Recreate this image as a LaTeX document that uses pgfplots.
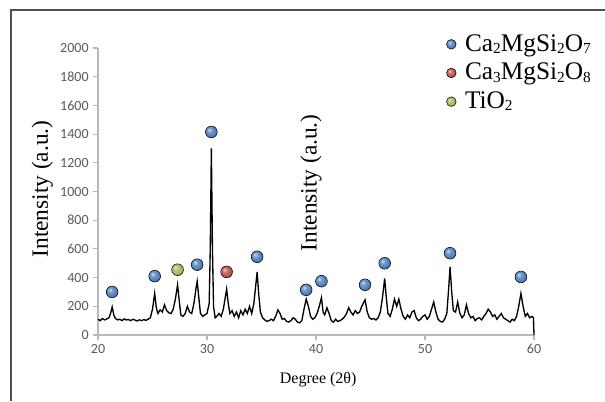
\documentclass[border=0pt]{standalone}
\usepackage{fontspec}
\setmainfont{Liberation Serif}
\newfontfamily\tickfont{Carlito}
\usepackage{pgfplots}
\pgfplotsset{compat=1.18}

\definecolor{cblue}{RGB}{79,129,189}
\definecolor{cred}{RGB}{192,80,77}
\definecolor{cgreen}{RGB}{155,187,89}
\definecolor{spine}{RGB}{185,185,185}
\definecolor{ticktext}{RGB}{89,89,89}
\definecolor{frame}{RGB}{80,80,80}

% softer ball shading than the tikz default (less black at the rim)
\makeatletter
\pgfdeclareradialshading[tikz@ball]{ball}{\pgfqpoint{-10bp}{10bp}}{color(0bp)=(tikz@ball!25!white); color(10bp)=(tikz@ball!80!white); color(22bp)=(tikz@ball); color(32bp)=(tikz@ball!85!black); color(50bp)=(tikz@ball!70!black)}
\makeatother

\newcommand\sub[1]{\raisebox{-0.08em}{\fontsize{11.5}{12}\selectfont #1}}

\begin{document}
\begin{tikzpicture}[x=0.75pt,y=0.75pt]
\useasboundingbox (0,0) rectangle (605,401);
\draw[line width=1.1pt, frame] (11,0) -- (11,391) -- (605,391);
\begin{axis}[
  at={(73.5pt,49.5pt)}, anchor=south west,
  scale only axis, width=327pt, height=215.25pt,
  xmin=20, xmax=60, ymin=0, ymax=2000,
  axis lines=left,
  axis line style={-, draw=spine, line width=0.8pt},
  xtick={20,30,...,60}, ytick={0,200,...,2000},
  tick align=outside, major tick length=3.5pt,
  tick style={draw=spine, line width=0.8pt},
  ticklabel style={font=\tickfont\fontsize{10.5}{12}\selectfont, color=ticktext},
  /pgf/number format/assume math mode=true,
  /pgf/number format/set thousands separator={},
  xlabel={Degree (2θ)},
  ylabel={Intensity (a.u.)},
  xlabel style={font=\fontsize{12}{14}\selectfont, at={(axis description cs:0.505,-0.157)}, anchor=center},
  ylabel style={font=\fontsize{17.5}{20}\selectfont, at={(axis description cs:-0.128,0.509)}, anchor=center},
  clip=false,
  legend style={at={(0.789,1.073)}, anchor=north west, draw=none, fill=none,
    font=\fontsize{19}{22}\selectfont,
    nodes={inner sep=1.5pt, text height=14.5pt, text depth=4pt},
    /tikz/every odd column/.append style={column sep=5pt}},
  legend cell align=left,
  legend image code/.code={\draw[#1, mark size=3.6pt] plot coordinates {(0cm,0cm)};},
]
\addplot[black, line width=1pt, forget plot] coordinates {
(20.0,110) (20.2,100) (20.4,115) (20.6,105) (20.8,112) (21.0,120) (21.15,150) (21.3,195) (21.45,140) (21.6,115)
(21.8,105) (22.0,110) (22.2,100) (22.4,112) (22.6,105) (22.8,108) (23.0,100) (23.2,110) (23.4,104) (23.6,98)
(23.8,106) (24.0,100) (24.2,108) (24.4,102) (24.6,110) (24.8,120) (25.0,180) (25.2,290) (25.35,190) (25.5,150)
(25.7,175) (25.9,160) (26.1,210) (26.3,170) (26.5,155) (26.7,150) (26.9,180) (27.1,250) (27.3,350) (27.45,240)
(27.6,140) (27.8,130) (28.0,150) (28.2,200) (28.4,160) (28.6,150) (28.8,220) (29.0,330) (29.1,375) (29.25,260)
(29.4,150) (29.6,130) (29.8,140) (30.0,150) (30.2,220) (30.3,600) (30.4,1300) (30.5,600) (30.6,200) (30.75,120)
(30.9,130) (31.1,150) (31.3,130) (31.5,180) (31.65,250) (31.8,320) (31.95,220) (32.1,150) (32.3,170) (32.5,130)
(32.7,160) (32.9,120) (33.1,170) (33.3,140) (33.5,180) (33.7,150) (33.9,200) (34.1,150) (34.3,220) (34.45,330)
(34.6,440) (34.75,280) (34.9,160) (35.1,120) (35.3,105) (35.5,95) (35.7,100) (35.9,110) (36.1,100) (36.3,130)
(36.5,175) (36.7,150) (36.9,110) (37.1,115) (37.3,95) (37.5,90) (37.7,100) (37.9,120) (38.1,110) (38.3,90)
(38.5,85) (38.7,100) (38.9,180) (39.1,250) (39.3,200) (39.5,130) (39.7,110) (39.9,120) (40.1,150) (40.3,200)
(40.5,260) (40.65,160) (40.8,140) (41.0,190) (41.2,150) (41.4,100) (41.6,90) (41.8,110) (42.0,95) (42.2,100)
(42.4,110) (42.6,125) (42.8,150) (43.0,190) (43.2,160) (43.4,140) (43.6,170) (43.8,150) (44.0,160) (44.2,200)
(44.5,245) (44.7,160) (44.9,120) (45.1,110) (45.3,115) (45.5,105) (45.7,120) (45.9,160) (46.1,260) (46.3,395)
(46.45,260) (46.6,150) (46.8,130) (47.0,180) (47.2,250) (47.4,200) (47.6,250) (47.8,180) (48.0,130) (48.2,110)
(48.4,140) (48.6,120) (48.8,160) (49.0,170) (49.2,120) (49.4,100) (49.6,110) (49.8,130) (50.0,140) (50.2,110)
(50.4,130) (50.6,180) (50.8,230) (51.0,160) (51.2,110) (51.4,95) (51.6,90) (51.8,110) (52.0,150) (52.15,300)
(52.3,475) (52.45,300) (52.6,170) (52.8,160) (53.0,230) (53.2,150) (53.4,120) (53.6,140) (53.8,210) (54.0,150)
(54.2,120) (54.4,130) (54.6,100) (54.8,115) (55.0,120) (55.2,105) (55.4,130) (55.6,150) (55.8,180) (56.0,160)
(56.2,130) (56.4,140) (56.6,110) (56.8,130) (57.0,150) (57.2,120) (57.4,110) (57.6,100) (57.8,90) (58.0,110)
(58.2,100) (58.4,130) (58.6,200) (58.8,290) (59.0,200) (59.2,130) (59.4,150) (59.6,120) (59.8,130) (59.95,120)
(60.0,0)
};
\addplot[only marks, mark=ball, mark size=4.4pt, ball color=cblue] coordinates {
(21.3,300) (25.2,410) (29.1,490) (30.4,1415) (34.6,545) (39.1,315) (40.5,375)
(44.5,350) (46.3,500) (52.3,570) (58.8,405)
};
\addlegendentry{Ca\sub{2}MgSi\sub{2}O\sub{7}}
\addplot[only marks, mark=ball, mark size=4.4pt, ball color=cred] coordinates {(31.8,440)};
\addlegendentry{Ca\sub{3}MgSi\sub{2}O\sub{8}}
\addplot[only marks, mark=ball, mark size=4.4pt, ball color=cgreen] coordinates {(27.3,455)};
\addlegendentry{TiO\sub{2}}
\node[rotate=90, font=\fontsize{17.5}{20}\selectfont] at (axis cs:39.54,1060) {Intensity (a.u.)};
\end{axis}
\end{tikzpicture}
\end{document}
